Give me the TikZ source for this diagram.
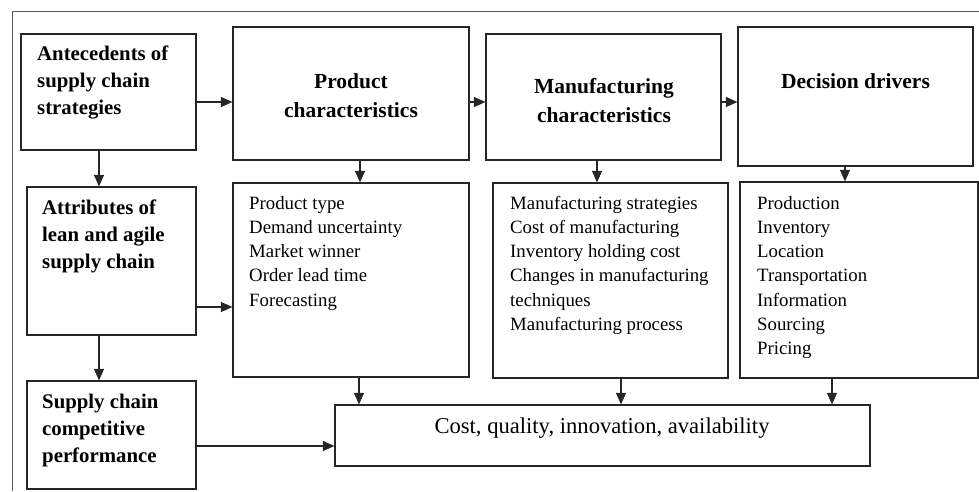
\documentclass[tikz,border=0pt]{standalone}
\usepackage{fontspec}
\setmainfont{Liberation Serif}
\usetikzlibrary{arrows.meta,fit}
\begin{document}
\begin{tikzpicture}[x=1pt,y=-1pt,
  box/.style={draw=black!85, line width=1.2pt, inner sep=0pt},
  arr/.style={-{Triangle[length=11.5pt,width=10pt]}, line width=1.1pt, draw=black!85},
  lbold/.style={font=\fontsize{20.8}{27.2}\selectfont\bfseries, align=left, anchor=base west, inner sep=0pt},
  hbold/.style={font=\fontsize{21.5}{29}\selectfont\bfseries, align=center, anchor=base, inner sep=0pt},
  lst/.style={font=\fontsize{18.8}{24.3}\selectfont, align=left, anchor=base west, inner sep=0pt},
  frame/.style={draw=black!65, line width=1pt}]
\useasboundingbox (0,0) rectangle (979,491);
% outer frame (partly visible)
\draw[frame] (12,491) -- (12,11) -- (979,11);
% boxes
\node[box, fit={(21,34) (196,150)}] (ante) {};
\node[box, fit={(27,187) (196,335)}] (attr) {};
\node[box, fit={(27,381) (196,489)}] (scp) {};
\node[box, fit={(233,27) (469,160)}] (prodH) {};
\node[box, fit={(486,34) (721,160)}] (manH) {};
\node[box, fit={(738,27) (973,166)}] (decH) {};
\node[box, fit={(233,183) (469,377)}] (prodL) {};
\node[box, fit={(493,183) (728,378)}] (manL) {};
\node[box, fit={(740,182) (978,378)}] (decL) {};
\node[box, fit={(335,405) (870,466)}] (cost) {};
% texts (base anchor = baseline of the last line)
\node[lbold] (anteT) at (37,114.4) {Antecedents of\\supply chain\\strategies};
\node[lbold] (attrT) at (42,268.4) {Attributes of\\lean and agile\\supply chain};
\node[lbold] (scpT) at (42,462.4) {Supply chain\\competitive\\performance};
\node[hbold] (prodHT) at (351,117) {Product\\characteristics};
\node[hbold] (manHT) at (604,122) {Manufacturing\\characteristics};
\node[hbold] (decHT) at (855.5,88) {Decision drivers};
\node[lst] (prodLT) at (249,306.2) {Product type\\Demand uncertainty\\Market winner\\Order lead time\\Forecasting};
\node[lst] (manLT) at (510,330.5) {Manufacturing strategies\\Cost of manufacturing\\Inventory holding cost\\Changes in manufacturing\\techniques\\Manufacturing process};
\node[lst] (decLT) at (757,354.8) {Production\\Inventory\\Location\\Transportation\\Information\\Sourcing\\Pricing};
\node[font=\fontsize{22.6}{27}\selectfont, anchor=base, inner sep=0pt] (costT) at (602,433) {Cost, quality, innovation, availability};
% guide coordinates
\coordinate (r1) at (0,102);
\coordinate (r2) at (0,307);
\coordinate (r3) at (0,446);
\coordinate (cA) at (99,0);
\coordinate (cP) at (360,0);
\coordinate (cM) at (597,0);
\coordinate (cD) at (845,0);
\coordinate (bP) at (359,0);
\coordinate (bM) at (621,0);
\coordinate (bD) at (832,0);
% connectors
\draw[arr] (ante.east |- r1) -- (prodH.west |- r1);
\draw[arr] (prodH.east |- r1) -- (manH.west |- r1);
\draw[arr] (manH.east |- r1) -- (decH.west |- r1);
\draw[arr] (ante.south -| cA) -- (attr.north -| cA);
\draw[arr] (attr.south -| cA) -- (scp.north -| cA);
\draw[arr] (attr.east |- r2) -- (prodL.west |- r2);
\draw[arr] (scp.east |- r3) -- (cost.west |- r3);
\draw[arr] (prodH.south -| cP) -- (prodL.north -| cP);
\draw[arr] (manH.south -| cM) -- (manL.north -| cM);
\draw[arr] (decH.south -| cD) -- (decL.north -| cD);
\draw[arr] (prodL.south -| bP) -- (cost.north -| bP);
\draw[arr] (manL.south -| bM) -- (cost.north -| bM);
\draw[arr] (decL.south -| bD) -- (cost.north -| bD);
\end{tikzpicture}
\end{document}
